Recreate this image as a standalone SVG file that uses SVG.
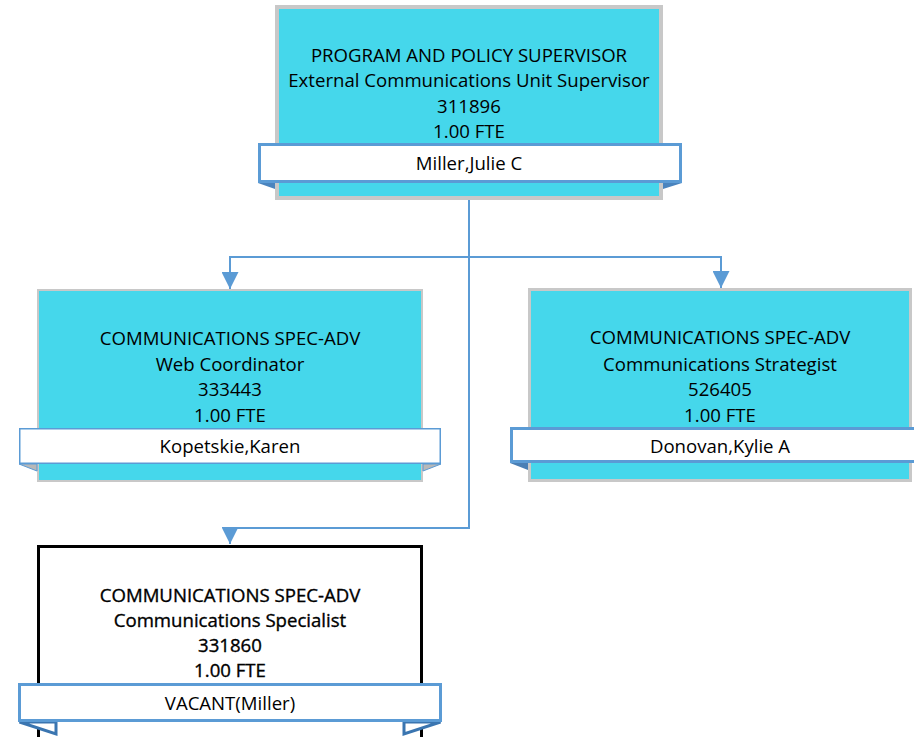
<svg xmlns="http://www.w3.org/2000/svg" width="914" height="737" viewBox="0 0 914 737">
<style>
text{font-family:"Open Sans","Noto Sans","Liberation Sans",sans-serif;font-size:18.6px;fill:#000;text-anchor:middle}
.card{fill:#45D7EB}
.bar{fill:#fff;stroke:#5B9BD5}
.conn{fill:none;stroke:#5B9BD5;stroke-width:2}
.bold text{stroke:#000;stroke-width:0.35px}
</style>
<defs>
<marker id="arr" viewBox="0 0 10 10" refX="10" refY="5" markerWidth="17" markerHeight="17" markerUnits="userSpaceOnUse" orient="auto">
<path d="M0,0 L10,5 L0,10 z" fill="#5B9BD5"/>
</marker>
</defs>
<g id="connectors">
<path class="conn" d="M469,200 V528 H230 V544" marker-end="url(#arr)"/>
<path class="conn" d="M469,257 H230 V289" marker-end="url(#arr)"/>
<path class="conn" d="M469,257 H721 V288" marker-end="url(#arr)"/>
</g>
<g id="node-supervisor">
<rect class="card" x="277" y="7" width="384" height="191" stroke="#C8C8C8" stroke-width="4"/>
<polygon points="258,183 275,183 275,189" fill="#4A84BE"/>
<polygon points="663,183 682,183 663,189" fill="#4A84BE"/>
<rect class="bar" x="259.5" y="144.5" width="421" height="37" stroke-width="3"/>
<text x="469" y="62">PROGRAM AND POLICY SUPERVISOR</text>
<text x="469" y="87">External Communications Unit Supervisor</text>
<text x="469" y="112.5">311896</text>
<text x="469" y="138">1.00 FTE</text>
<text x="469" y="170">Miller,Julie C</text>
</g>
<g id="node-web">
<rect class="card" x="38" y="290" width="384" height="191" stroke="#C8C8C8" stroke-width="2"/>
<polygon points="19,464 37,464 37,471" fill="#B8B8B8" stroke="#5B9BD5" stroke-width="1"/>
<polygon points="441,464 423,464 423,471" fill="#B8B8B8" stroke="#5B9BD5" stroke-width="1"/>
<rect class="bar" x="19.75" y="428.75" width="420.5" height="34.5" stroke-width="1.5"/>
<text x="230" y="345">COMMUNICATIONS SPEC-ADV</text>
<text x="230" y="371">Web Coordinator</text>
<text x="230" y="396">333443</text>
<text x="230" y="422">1.00 FTE</text>
<text x="230" y="453">Kopetskie,Karen</text>
</g>
<g id="node-strategist">
<rect class="card" x="529.5" y="289.5" width="381" height="191" stroke="#C8C8C8" stroke-width="3"/>
<polygon points="510,463 528,463 528,470" fill="#4A7FB5"/>
<rect class="bar" x="511.5" y="428.5" width="417" height="33" stroke-width="3"/>
<text x="720" y="344">COMMUNICATIONS SPEC-ADV</text>
<text x="720" y="371">Communications Strategist</text>
<text x="720" y="396">526405</text>
<text x="720" y="422">1.00 FTE</text>
<text x="720" y="453">Donovan,Kylie A</text>
</g>
<g id="node-specialist" class="bold">
<rect x="38.5" y="546.5" width="383" height="200" fill="#fff" stroke="#000" stroke-width="3"/>
<polygon points="19.5,722 56,722 56,734" fill="#fff" stroke="#3A75B0" stroke-width="3"/>
<polygon points="440.5,722 404,722 404,734" fill="#fff" stroke="#3A75B0" stroke-width="3"/>
<rect class="bar" x="19.5" y="684.5" width="421" height="36" stroke-width="3"/>
<text x="230" y="602">COMMUNICATIONS SPEC-ADV</text>
<text x="230" y="627">Communications Specialist</text>
<text x="230" y="652">331860</text>
<text x="230" y="677">1.00 FTE</text>
<text x="230" y="710" style="stroke:none">VACANT(Miller)</text>
</g>
</svg>
